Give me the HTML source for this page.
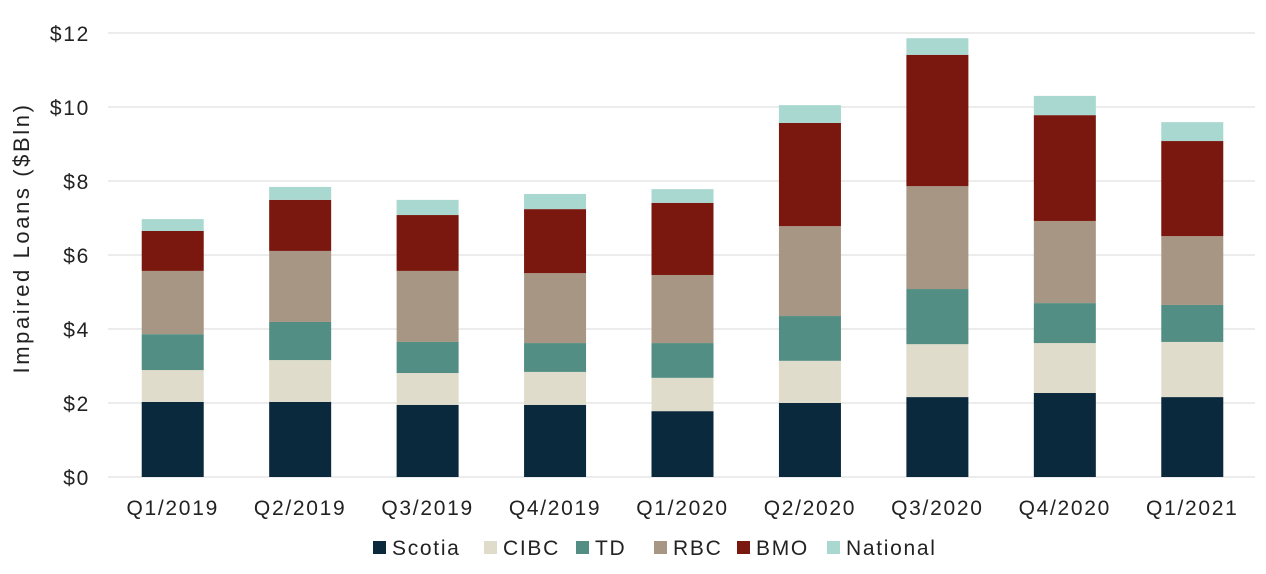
<!DOCTYPE html>
<html><head><meta charset="utf-8"><style>
body{margin:0;background:#fff;font-family:"Liberation Sans",sans-serif}
svg text{font-family:"Liberation Sans",sans-serif;fill:#222;letter-spacing:1.7px}
</style></head><body>
<svg width="1266" height="569">
<g id="grid"></g><g id="bars"></g><g id="xl"></g><g id="legend"></g>
<text transform="translate(29,238) rotate(-90)" text-anchor="middle" font-size="22" style="letter-spacing:2.6px">Impaired Loans ($Bln)</text>
</svg>
<script>
const categories=["Q1/2019","Q2/2019","Q3/2019","Q4/2019","Q1/2020","Q2/2020","Q3/2020","Q4/2020","Q1/2021"];
const seriesNames=["Scotia","CIBC","TD","RBC","BMO","National"];
const scotia=[2.03,2.03,1.95,1.95,1.78,2.00,2.16,2.27,2.16];
const cibc=[0.86,1.13,0.86,0.89,0.90,1.14,1.43,1.35,1.49];
const td=[0.97,1.03,0.84,0.78,0.94,1.21,1.49,1.08,1.00];
const rbc=[1.71,1.92,1.92,1.89,1.84,2.43,2.78,2.22,1.86];
const bmo=[1.08,1.38,1.51,1.73,1.95,2.79,3.55,2.86,2.57];
const national=[0.32,0.35,0.41,0.41,0.37,0.48,0.45,0.52,0.51];
const yTicks=[0,2,4,6,8,10,12];
const colors=["#0b293d","#e0dccb","#528e83","#a79684","#7a170e","#a8d8cf"];
const series=[scotia,cibc,td,rbc,bmo,national];
const NS="http://www.w3.org/2000/svg";
const x0=108,x1=1255,y0=477,y12=33;
const y=v=>y0-(v/12)*(y0-y12);
const step=(x1-x0)/categories.length;
const cx=i=>x0+step*(i+0.5)+1;
const bw=62;
function mk(t,a,p){const e=document.createElementNS(NS,t);for(const k in a)e.setAttribute(k,a[k]);p.appendChild(e);return e;}
const g=document.getElementById('grid');
yTicks.forEach(t=>{
 const l=mk('line',{x1:x0,x2:x1,y1:y(t),y2:y(t),stroke:'#d9d9d9','stroke-width':1},g);
 
 
 const tx=mk('text',{x:90,y:y(t)+8,'text-anchor':'end','font-size':21},g);
 tx.textContent='$'+t;
 
 
});
const b=document.getElementById('bars');
categories.forEach((c,i)=>{
 let acc=0;
 series.forEach((s,k)=>{
  const r=mk('rect',{x:cx(i)-bw/2,y:y(acc+s[i]),width:bw,height:y(acc)-y(acc+s[i]),fill:colors[k]},b);
  
  
  acc+=s[i];
 });
 const t=mk('text',{x:cx(i),y:515,'text-anchor':'middle','font-size':21},document.getElementById('xl'));
 t.textContent=c;
 
 
});
const lg=document.getElementById('legend');
const lx=[373,484,576,654,737,827];
seriesNames.forEach((n,k)=>{
 const r=mk('rect',{x:lx[k],y:541,width:13,height:13,fill:colors[k]},lg);
 
 
 const t=mk('text',{x:lx[k]+19,y:555,'font-size':21},lg);
 t.textContent=n;
 
 
});
</script>
</body></html>
